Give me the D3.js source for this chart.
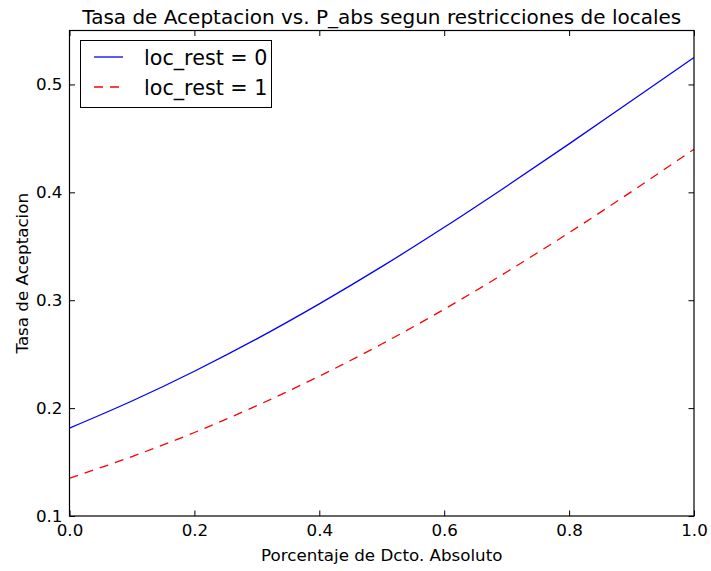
<!DOCTYPE html>
<html>
<head>
<meta charset="utf-8">
<script src="https://cdn.jsdelivr.net/npm/d3@7"></script>
<style>
  body { margin: 0; background: #fff; }
  svg { display: block; font-family: "DejaVu Sans", sans-serif; }
</style>
</head>
<body>
<svg id="chart" width="711" height="571"></svg>
<script>
// ---- data ----
const xValues = [0.0, 0.1, 0.2, 0.3, 0.4, 0.5, 0.6, 0.7, 0.8, 0.9, 1.0];
const locRest0 = [0.1815, 0.2066, 0.2342, 0.2642, 0.2966, 0.3311, 0.3676, 0.4057, 0.4449, 0.4849, 0.5250];
const locRest1 = [0.1350, 0.1551, 0.1774, 0.2023, 0.2296, 0.2594, 0.2916, 0.3262, 0.3626, 0.4007, 0.4400];
const seriesNames = ["loc_rest = 0", "loc_rest = 1"];
const xTicks = [0.0, 0.2, 0.4, 0.6, 0.8, 1.0];
const yTicks = [0.1, 0.2, 0.3, 0.4, 0.5];

const svg = d3.select("#chart");
const L = 69.5, R = 694, T = 30.5, B = 516;

const x = d3.scaleLinear().domain([0, 1]).range([L, R]);
const y = d3.scaleLinear().domain([0.1, 0.55]).range([B, T]);

const series = [
  { name: seriesNames[0], vals: locRest0, color: "#0000ff", dash: null },
  { name: seriesNames[1], vals: locRest1, color: "#ff0000", dash: "9,7" }
];

const line = d3.line()
  .x((d, i) => x(xValues[i]))
  .y(d => y(d))
  .curve(d3.curveMonotoneX);

const plot = svg.append("g");
plot.append("clipPath").attr("id", "clip")
  .append("rect").attr("x", L).attr("y", T).attr("width", R - L).attr("height", B - T);

series.forEach(s => {
  plot.append("path")
    .datum(s.vals)
    .attr("clip-path", "url(#clip)")
    .attr("fill", "none")
    .attr("stroke", s.color)
    .attr("stroke-width", 1.3)
    .attr("stroke-dasharray", s.dash)
    .attr("d", line);
});

// axes (ticks inward, on all sides)
const tickLen = 5.5;
const fmt = d3.format(".1f");
const axB = d3.axisBottom(x).tickValues(xTicks).tickFormat(fmt).tickSizeInner(-tickLen).tickSizeOuter(0).tickPadding(8);
const axT = d3.axisTop(x).tickValues(xTicks).tickFormat("").tickSizeInner(-tickLen).tickSizeOuter(0);
const axL = d3.axisLeft(y).tickValues(yTicks).tickFormat(fmt).tickSizeInner(-tickLen).tickSizeOuter(0).tickPadding(7);
const axR = d3.axisRight(y).tickValues(yTicks).tickFormat("").tickSizeInner(-tickLen).tickSizeOuter(0);

function styleAxis(g) {
  g.select(".domain").remove();
  g.selectAll(".tick line").attr("stroke", "#000").attr("stroke-width", 1);
  g.selectAll(".tick text").attr("fill", "#000").style("font-size", "16.7px").style("font-family", "DejaVu Sans");
}
svg.append("g").attr("transform", `translate(0,${B})`).call(axB).call(styleAxis);
svg.append("g").attr("transform", `translate(0,${T})`).call(axT).call(styleAxis);
svg.append("g").attr("transform", `translate(${L},0)`).call(axL).call(styleAxis);
svg.append("g").attr("transform", `translate(${R},0)`).call(axR).call(styleAxis);

// frame
svg.append("rect").attr("x", L).attr("y", T).attr("width", R - L).attr("height", B - T)
  .attr("fill", "none").attr("stroke", "#000").attr("stroke-width", 1.2);

// title & labels
svg.append("text").attr("x", (L + R) / 2).attr("y", 24).attr("text-anchor", "middle")
  .style("font-size", "20px").text("Tasa de Aceptacion vs. P_abs segun restricciones de locales");
svg.append("text").attr("x", (L + R) / 2).attr("y", 561).attr("text-anchor", "middle")
  .style("font-size", "16.7px").text("Porcentaje de Dcto. Absoluto");
svg.append("text").attr("transform", `translate(28,${(T + B) / 2}) rotate(-90)`).attr("text-anchor", "middle")
  .style("font-size", "16.7px").text("Tasa de Aceptacion");

// legend
const lg = svg.append("g");
lg.append("rect").attr("x", 80.5).attr("y", 40.5).attr("width", 191).attr("height", 67)
  .attr("fill", "#fff").attr("stroke", "#000").attr("stroke-width", 1);
series.forEach((s, i) => {
  const yy = 57 + i * 30;
  lg.append("line").attr("x1", 94).attr("x2", 123).attr("y1", yy).attr("y2", yy)
    .attr("stroke", s.color).attr("stroke-width", 1.3).attr("stroke-dasharray", s.dash);
  lg.append("text").attr("x", 144).attr("y", yy + 7.5).style("font-size", "20.7px").text(s.name);
});
</script>
</body>
</html>
